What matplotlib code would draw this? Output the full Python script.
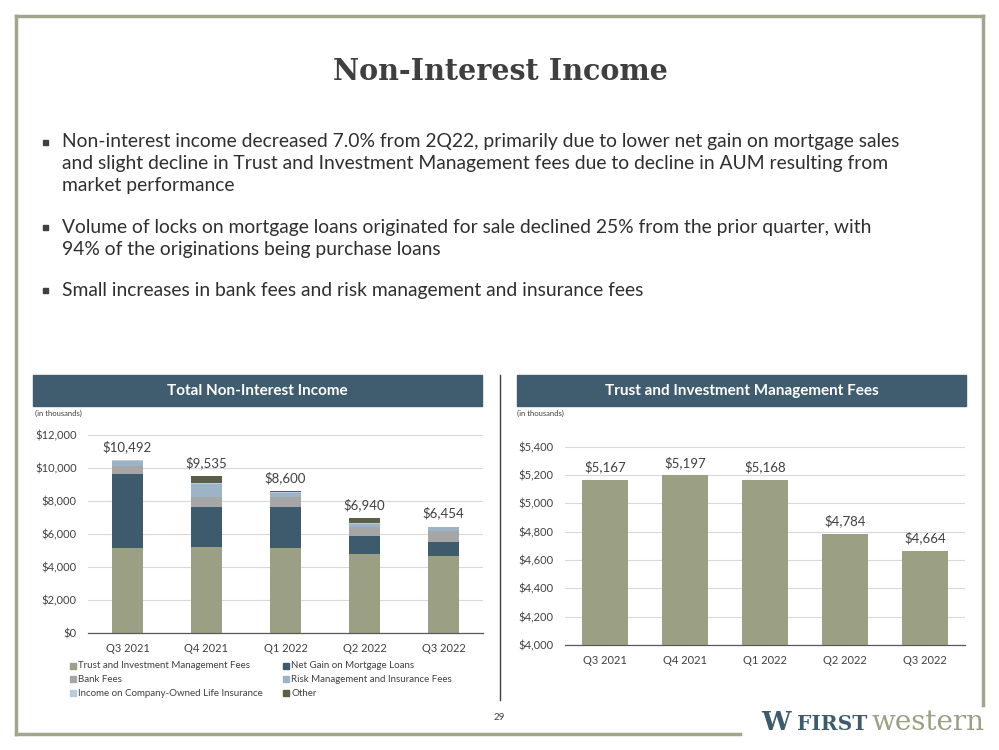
import matplotlib
matplotlib.use("Agg")
import matplotlib.pyplot as plt
from matplotlib.patches import Rectangle
from matplotlib.lines import Line2D
import numpy as np

plt.rcParams['font.family'] = ['Lato', 'DejaVu Sans']

# ---------------- data ----------------
quarters = ["Q3 2021", "Q4 2021", "Q1 2022", "Q2 2022", "Q3 2022"]
trust_fees = [5167, 5197, 5168, 4784, 4664]
mortgage_gain = [4469, 2458, 2450, 1113, 870]
bank_fees = [480, 605, 640, 545, 650]
risk_mgmt = [290, 770, 200, 190, 220]
coli = [60, 50, 60, 60, 30]
other = [26, 455, 82, 248, 20]
totals = [10492, 9535, 8600, 6940, 6454]

series_names = ["Trust and Investment Management Fees", "Net Gain on Mortgage Loans",
                "Bank Fees", "Risk Management and Insurance Fees",
                "Income on Company-Owned Life Insurance", "Other"]
series_colors = ["#9BA085", "#3E5B6E", "#A6A6A6", "#9DB3C6", "#B9CCDF", "#5B5F47"]

left_ticks = [0, 2000, 4000, 6000, 8000, 10000, 12000]
right_ticks = [4000, 4200, 4400, 4600, 4800, 5000, 5200, 5400]

W, H = 999, 750
fig = plt.figure(figsize=(W / 100, H / 100), dpi=100)
fig.patch.set_facecolor("white")

def fx(x):
    return x / W

def fy(y):
    return 1 - y / H

FRAME = "#A3A68C"
HEADER = "#3F5D6F"
TXT = "#404040"

# frame
fig.add_artist(Line2D([fx(16), fx(983)], [fy(16), fy(16)], color=FRAME, lw=2.5))
fig.add_artist(Line2D([fx(16), fx(16)], [fy(16), fy(734)], color=FRAME, lw=2.5))
fig.add_artist(Line2D([fx(983), fx(983)], [fy(16), fy(705)], color=FRAME, lw=2.5))
fig.add_artist(Line2D([fx(16), fx(740)], [fy(734), fy(734)], color=FRAME, lw=2.5))

# title
fig.text(fx(500), fy(72), "Non-Interest Income", ha="center", va="center",
         fontsize=20.6, fontweight="bold", family=["DejaVu Serif"], color="#3F3F3F")

# bullets
bullets = [
    (142, "Non-interest income decreased 7.0% from 2Q22, primarily due to lower net gain on mortgage sales", True),
    (164, "and slight decline in Trust and Investment Management fees due to decline in AUM resulting from", False),
    (186, "market performance", False),
    (227, "Volume of locks on mortgage loans originated for sale declined 25% from the prior quarter, with", True),
    (249, "94% of the originations being purchase loans", False),
    (290, "Small increases in bank fees and risk management and insurance fees", True),
]
for y, t, b in bullets:
    if b:
        fig.add_artist(Rectangle((fx(43), fy(y + 3)), 5 / W, 5 / H, color="#404040"))
    fig.text(fx(62), fy(y), t, ha="left", va="center", fontsize=13.9, color="#2F2F2F")

# headers
for x0, x1, t in [(33, 482, "Total Non-Interest Income"), (517, 966, "Trust and Investment Management Fees")]:
    fig.add_artist(Rectangle((fx(x0), fy(406)), (x1 - x0) / W, 31 / H, color=HEADER))
    fig.text(fx((x0 + x1) / 2), fy(391), t, ha="center", va="center", fontsize=11,
             fontweight="bold", color="white")

# separator
fig.add_artist(Line2D([fx(500), fx(500)], [fy(375), fy(700)], color="#404040", lw=1))

fig.text(fx(35), fy(413), "(in thousands)", fontsize=5.5, color=TXT, va="center")
fig.text(fx(517), fy(413), "(in thousands)", fontsize=5.5, color=TXT, va="center")

# ---------------- left chart ----------------
axL = fig.add_axes([fx(88), fy(633), (483 - 88) / W, (633 - 435) / H])
x = np.arange(len(quarters))
series = [trust_fees, mortgage_gain, bank_fees, risk_mgmt, coli, other]
bottom = np.zeros(len(quarters))
for vals, name, col in zip(series, series_names, series_colors):
    axL.bar(x, vals, 0.39, bottom=bottom, color=col, label=name, zorder=3)
    bottom += np.array(vals)
axL.set_xlim(-0.5, 4.5)
axL.set_ylim(0, 12000)
axL.set_yticks(left_ticks)
axL.set_yticklabels([f"${v:,}" for v in left_ticks])
axL.set_xticks(x)
axL.set_xticklabels(quarters)
for i, t in enumerate(totals):
    axL.text(x[i], t + 420, f"${t:,}", ha="center", va="bottom", fontsize=9.5, color=TXT, clip_on=False)

# ---------------- right chart ----------------
axR = fig.add_axes([fx(565), fy(645), (965 - 565) / W, (645 - 446.7) / H])
axR.bar(x, trust_fees, 0.575, color=series_colors[0], zorder=3)
axR.set_xlim(-0.5, 4.5)
axR.set_ylim(4000, 5400)
axR.set_yticks(right_ticks)
axR.set_yticklabels([f"${v:,}" for v in right_ticks])
axR.set_xticks(x)
axR.set_xticklabels(quarters)
for i, t in enumerate(trust_fees):
    axR.text(x[i], t + 45, f"${t:,}", ha="center", va="bottom", fontsize=9.5, color=TXT)

for ax in (axL, axR):
    ax.set_facecolor("none")
    for s in ["top", "right", "left"]:
        ax.spines[s].set_visible(False)
    ax.spines["bottom"].set_color("#595959")
    ax.spines["bottom"].set_linewidth(0.9)
    ax.spines["bottom"].set_zorder(4)
    ax.grid(axis="y", color="#D9D9D9", lw=0.8, zorder=0)
    ax.tick_params(axis="both", length=0, labelsize=8, labelcolor=TXT)
    ax.tick_params(axis="x", pad=7)
    ax.tick_params(axis="y", pad=8)

# legend
leg_pos = [(70, 666), (283, 666), (70, 679), (283, 679), (70, 693), (283, 693)]
for (lx, ly), name, col in zip(leg_pos, series_names, series_colors):
    fig.add_artist(Rectangle((fx(lx), fy(ly + 3)), 6 / W, 6 / H, color=col))
    fig.text(fx(lx + 8), fy(ly), name, fontsize=7.0, color=TXT, va="center", ha="left")

# page number
fig.text(fx(499), fy(717), "29", fontsize=7, color=TXT, ha="center", va="center")

# logo
fig.text(fx(776), fy(723), "W", fontsize=19, fontweight="bold", family=["DejaVu Serif"],
         color="#3E5B6E", ha="center", va="center")
fig.text(fx(797), fy(724), "FIRST", fontsize=14.5, fontweight="bold", family=["DejaVu Serif"],
         color="#3E5B6E", ha="left", va="center")
fig.text(fx(872), fy(722), "western", fontsize=20, family=["DejaVu Serif"],
         color="#9BA085", ha="left", va="center")

fig.savefig("out.png", dpi=100)
